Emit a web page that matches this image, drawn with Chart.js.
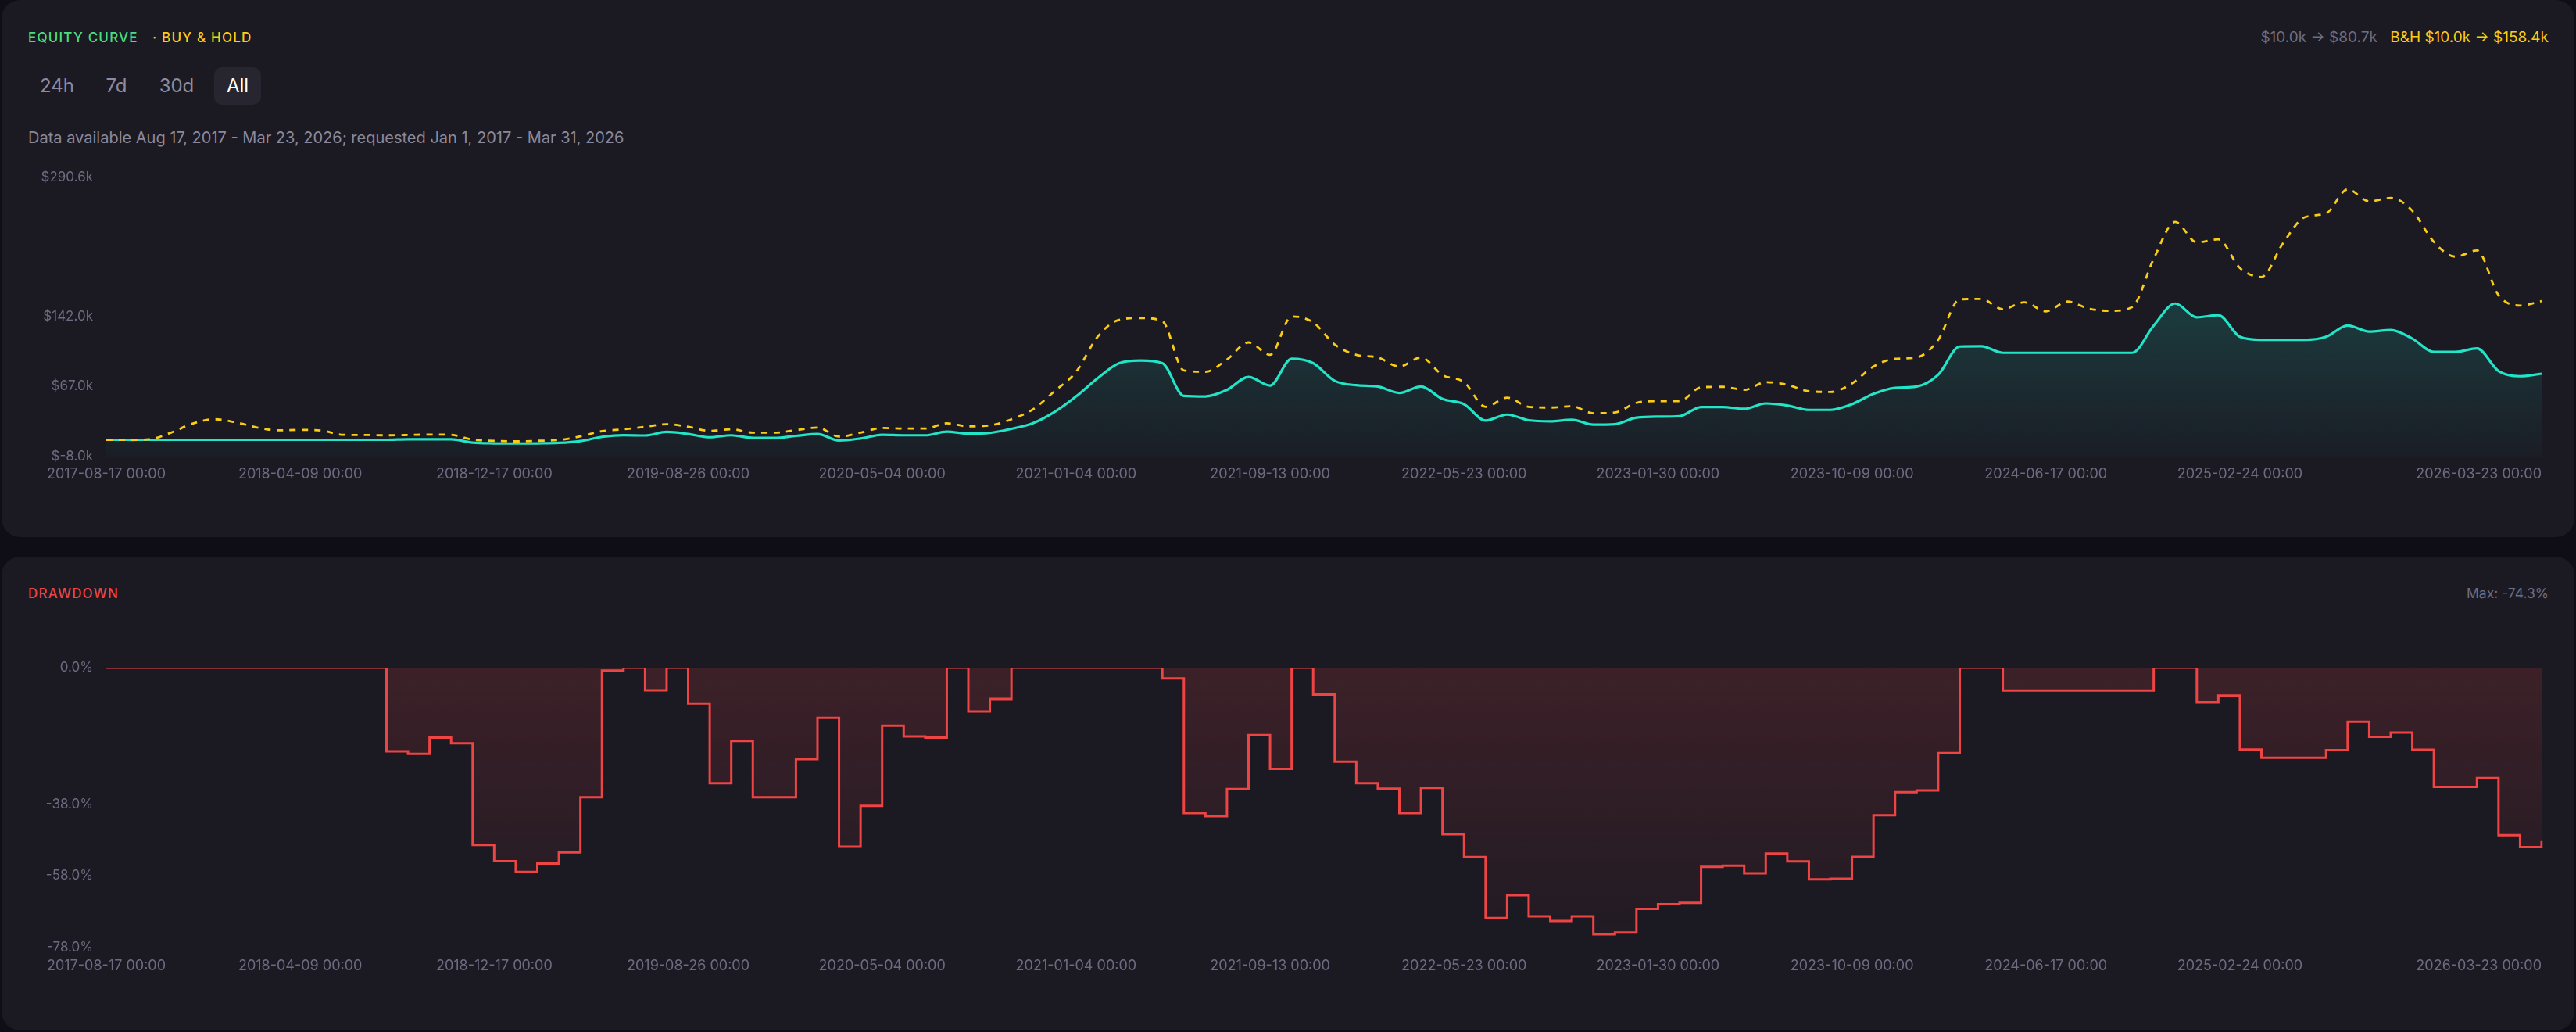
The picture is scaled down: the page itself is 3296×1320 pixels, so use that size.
<!DOCTYPE html>
<html>
<head>
<meta charset="utf-8">
<script src="https://cdn.jsdelivr.net/npm/chart.js@4.4.1/dist/chart.umd.min.js"></script>
<style>
  html, body { margin: 0; padding: 0; background: #0f0e16; }
  body { width: 3296px; height: 1320px; position: relative; overflow: hidden; font-family: Inter, "Noto Sans", sans-serif; }
  .card { position: absolute; left: 2px; width: 3292px; background: #1b1a23; border-radius: 24px; }
  .txt { position: absolute; white-space: nowrap; }
  .title { font-size: 17px; line-height: 20px; letter-spacing: 1.2px; font-weight: 500; }
  .btn { position: absolute; top: 86px; height: 48px; line-height: 48px; font-size: 24px; color: #8c8ba0; text-align: center; border-radius: 10px; }
  .btn.on { background: #262530; color: #ffffff; }
  canvas { position: absolute; left: 0; }
</style>
</head>
<body>
<div class="card" style="top:0; height:687px;"></div>
<div class="card" style="top:712px; height:606px;"></div>

<div class="txt title" style="left:36px; top:38px; color:#4ade80;">EQUITY CURVE</div>
<div class="txt title" style="left:195px; top:38px; color:#facc15;">· BUY &amp; HOLD</div>
<div class="txt" style="right:35px; top:36px; font-size:19px; line-height:24px;">
  <span style="color:#6e6d82;">$10.0k → $80.7k</span>
  <span style="color:#facc15; margin-left:11px;">B&amp;H $10.0k → $158.4k</span>
</div>

<div class="btn" style="left:42px; width:62px;">24h</div>
<div class="btn" style="left:120px; width:58px;">7d</div>
<div class="btn" style="left:194px; width:64px;">30d</div>
<div class="btn on" style="left:274px; width:60px;">All</div>

<div class="txt" style="left:36px; top:164px; font-size:20px; line-height:24px; color:#8a899c;">Data available Aug 17, 2017 - Mar 23, 2026; requested Jan 1, 2017 - Mar 31, 2026</div>

<canvas id="equityChart" width="3296" height="440" style="top:200px; width:3296px; height:440px;"></canvas>

<div class="txt title" style="left:36px; top:749px; color:#ef4444;">DRAWDOWN</div>
<div class="txt" style="right:35px; top:748px; font-size:17.5px; line-height:22px; color:#6e6d82;">Max: -74.3%</div>

<canvas id="ddChart" width="3296" height="440" style="top:820px; width:3296px; height:440px;"></canvas>

<script>
// x tick labels and where they sit (point index)
const tickIndex = [0, 9, 18, 27, 36, 45, 54, 63, 72, 81, 90, 99, 113];
const tickLabels = [
  '2017-08-17 00:00', '2018-04-09 00:00', '2018-12-17 00:00', '2019-08-26 00:00',
  '2020-05-04 00:00', '2021-01-04 00:00', '2021-09-13 00:00', '2022-05-23 00:00',
  '2023-01-30 00:00', '2023-10-09 00:00', '2024-06-17 00:00', '2025-02-24 00:00',
  '2026-03-23 00:00'
];

// y ticks
const equityTicks = [-8, 67, 142, 290.6];
const drawdownTicks = [0, -38, -58, -78];

// strategy equity, $k
const equity = [
  10.0, 10.0, 10.0, 10.0, 10.0, 10.0, 10.0, 10.0, 10.0, 10.0,
  10.0, 10.0, 10.0, 10.0, 10.5, 10.5, 10.5, 7.0, 6.2, 6.0,
  6.2, 6.7, 8.7, 13.1, 14.9, 14.6, 18.4, 16.2, 12.7, 14.8,
  12.0, 12.0, 14.2, 16.2, 9.2, 11.4, 15.3, 14.8, 14.8, 18.7,
  16.5, 17.3, 21.7, 27.8, 39.8, 56.4, 75.9, 92.0, 94.8, 92.0,
  57.0, 56.4, 63.4, 77.3, 68.1, 96.7, 92.0, 73.1, 68.4, 67.0,
  60.1, 67.0, 53.7, 48.1, 30.6, 37.0, 30.9, 29.8, 31.4, 26.2,
  26.7, 33.7, 34.8, 35.3, 45.1, 45.1, 43.1, 48.9, 46.7, 42.0,
  42.0, 48.1, 59.2, 65.6, 67.0, 79.5, 109.8, 110.1, 103.1, 103.1,
  103.1, 103.1, 103.1, 103.1, 103.1, 132.2, 155.8, 141.1, 143.3, 120.2,
  116.9, 116.9, 116.9, 120.2, 132.2, 125.8, 127.5, 118.3, 104.1, 104.1,
  107.8, 83.6, 78.0, 80.7
];

// buy & hold, $k
const buyHold = [
  10.0, 9.8, 10.5, 17.6, 27.3, 32.0, 28.7, 23.1, 20.1, 20.6,
  19.8, 15.3, 15.1, 14.8, 15.1, 15.6, 15.3, 10.1, 8.9, 8.3,
  8.9, 9.8, 13.7, 19.2, 21.2, 23.9, 26.7, 23.9, 19.5, 21.2,
  17.6, 17.6, 20.3, 23.1, 13.4, 17.6, 22.6, 22.0, 22.0, 27.6,
  24.3, 25.3, 32.0, 42.6, 62.0, 82.8, 120.3, 138.4, 140.3, 137.0,
  84.2, 82.8, 95.9, 114.2, 100.9, 142.0, 135.6, 112.0, 100.9, 98.1,
  88.4, 98.1, 79.2, 71.7, 45.3, 55.1, 45.3, 44.5, 45.9, 38.4,
  39.2, 49.5, 51.4, 51.4, 66.2, 66.7, 63.4, 71.7, 68.9, 62.0,
  61.2, 70.3, 88.4, 96.7, 98.1, 116.9, 160.3, 160.7, 149.7, 157.2,
  147.4, 158.0, 150.2, 148.0, 152.0, 203.7, 243.1, 221.2, 224.5, 193.9,
  184.2, 220.3, 248.1, 252.3, 278.1, 265.3, 268.9, 255.1, 221.8, 206.0,
  212.6, 164.8, 153.7, 158.4
];

// drawdown, %
const drawdown = [
  0, 0, 0, 0, 0, 0, 0, 0, 0, 0,
  0, 0, 0, -23.3, -24.0, -19.5, -21.1, -49.4, -53.9, -56.9,
  -54.6, -51.5, -36.1, -0.8, 0, -6.3, 0, -10.1, -32.2, -20.4,
  -36.1, -36.1, -25.5, -14.0, -49.9, -38.5, -16.2, -19.2, -19.5, 0,
  -12.2, -8.7, 0, 0, 0, 0, 0, 0, 0, -3.0,
  -40.5, -41.4, -33.8, -18.8, -28.2, 0, -7.5, -26.2, -32.2, -33.7,
  -40.5, -33.5, -46.4, -52.8, -69.8, -63.4, -69.3, -70.6, -69.3, -74.3,
  -73.8, -67.2, -65.9, -65.5, -55.5, -55.2, -57.3, -51.8, -54.0, -59.0,
  -58.8, -52.7, -41.1, -34.7, -34.2, -23.8, 0, 0, -6.4, -6.4,
  -6.4, -6.4, -6.4, -6.4, -6.4, 0, 0, -9.6, -7.8, -22.8,
  -25.1, -25.1, -25.1, -23.0, -15.1, -19.3, -18.1, -22.9, -33.2, -33.2,
  -30.8, -46.7, -50.0, -48.3
];

const periods = equity.map((_, i) => i);

const xFont = { family: 'Inter', size: 18 };
const yFont = { family: 'Inter', size: 17 };
const tickColor = '#6c6b80';
const labelFor = (v) => tickLabels[tickIndex.indexOf(v)];

// shared x axes: main labels centred, last one right-aligned to the plot edge
function xAxes(yAxisMin, labelPad) {
  return {
    x: {
      type: 'category',
      grid: { display: false, drawTicks: false },
      border: { display: false },
      afterBuildTicks: (axis) => { axis.ticks = tickIndex.slice(0, -1).map(v => ({ value: v })); },
      afterFit: (axis) => { axis.height = labelPad.h; axis.paddingLeft = 0; axis.paddingRight = 0; },
      ticks: { autoSkip: false, maxRotation: 0, padding: labelPad.p, color: tickColor, font: xFont, callback: labelFor }
    },
    x2: {
      type: 'category',
      axis: 'x',
      position: { y: yAxisMin },
      min: 0,
      max: periods.length - 1,
      grid: { display: false, drawTicks: false },
      border: { display: false },
      afterBuildTicks: (axis) => { axis.ticks = [{ value: tickIndex[tickIndex.length - 1] }]; },
      afterFit: (axis) => { axis.paddingLeft = 0; axis.paddingRight = 0; },
      ticks: { autoSkip: false, maxRotation: 0, align: 'end', padding: labelPad.p, color: tickColor, font: xFont, callback: labelFor }
    }
  };
}

new Chart(document.getElementById('equityChart'), {
  type: 'line',
  data: {
    labels: periods,
    datasets: [
      {
        label: 'Buy & Hold',
        data: buyHold,
        borderColor: '#facc15',
        borderWidth: 2.8,
        borderDash: [8, 8],
        pointRadius: 0,
        fill: false,
        cubicInterpolationMode: 'monotone',
        order: 0
      },
      {
        label: 'Equity',
        data: equity,
        borderColor: '#22e4c7',
        borderWidth: 3.2,
        pointRadius: 0,
        fill: 'start',
        cubicInterpolationMode: 'monotone',
        order: 1,
        backgroundColor: (c) => {
          const chart = c.chart;
          const a = chart.chartArea;
          if (!a) return 'transparent';
          const top = chart.scales.y.getPixelForValue(Math.max(...equity));
          const g = chart.ctx.createLinearGradient(0, top, 0, a.bottom);
          g.addColorStop(0, 'rgba(34,228,199,0.17)');
          g.addColorStop(1, 'rgba(34,228,199,0.02)');
          return g;
        }
      }
    ]
  },
  options: {
    responsive: false,
    animation: false,
    layout: { padding: { top: 26, right: 44, left: 0, bottom: 0 } },
    plugins: { legend: { display: false }, tooltip: { enabled: false } },
    scales: Object.assign(xAxes(equityTicks[0], { h: 56, p: 12 }), {
      y: {
        min: equityTicks[0],
        max: equityTicks[equityTicks.length - 1],
        grid: { display: false, drawTicks: false },
        border: { display: false },
        afterBuildTicks: (axis) => { axis.ticks = equityTicks.map(v => ({ value: v })); },
        afterFit: (axis) => { axis.width = 136; },
        ticks: { padding: 17, color: tickColor, font: yFont, callback: (v) => '$' + v.toFixed(1) + 'k' }
      }
    })
  }
});

new Chart(document.getElementById('ddChart'), {
  type: 'line',
  data: {
    labels: periods,
    datasets: [{
      label: 'Drawdown',
      data: drawdown,
      borderColor: '#ef4444',
      borderWidth: 3,
      pointRadius: 0,
      stepped: 'before',
      fill: 'origin',
      backgroundColor: (c) => {
        const chart = c.chart;
        const a = chart.chartArea;
        if (!a) return 'transparent';
        const top = chart.scales.y.getPixelForValue(0);
        const bottom = chart.scales.y.getPixelForValue(Math.min(...drawdown));
        const g = chart.ctx.createLinearGradient(0, top, 0, bottom);
        g.addColorStop(0, 'rgba(239,68,68,0.16)');
        g.addColorStop(1, 'rgba(239,68,68,0.03)');
        return g;
      }
    }]
  },
  options: {
    responsive: false,
    animation: false,
    layout: { padding: { top: 34, right: 44, left: 0, bottom: 0 } },
    plugins: { legend: { display: false }, tooltip: { enabled: false } },
    scales: Object.assign(xAxes(drawdownTicks[drawdownTicks.length - 1], { h: 48, p: 13 }), {
      y: {
        min: drawdownTicks[drawdownTicks.length - 1],
        max: drawdownTicks[0],
        grid: { display: false, drawTicks: false },
        border: { display: false },
        afterBuildTicks: (axis) => { axis.ticks = drawdownTicks.map(v => ({ value: v })); },
        afterFit: (axis) => { axis.width = 136; },
        ticks: { padding: 17, color: tickColor, font: yFont, callback: (v) => v.toFixed(1) + '%' }
      }
    })
  }
});
</script>
</body>
</html>
